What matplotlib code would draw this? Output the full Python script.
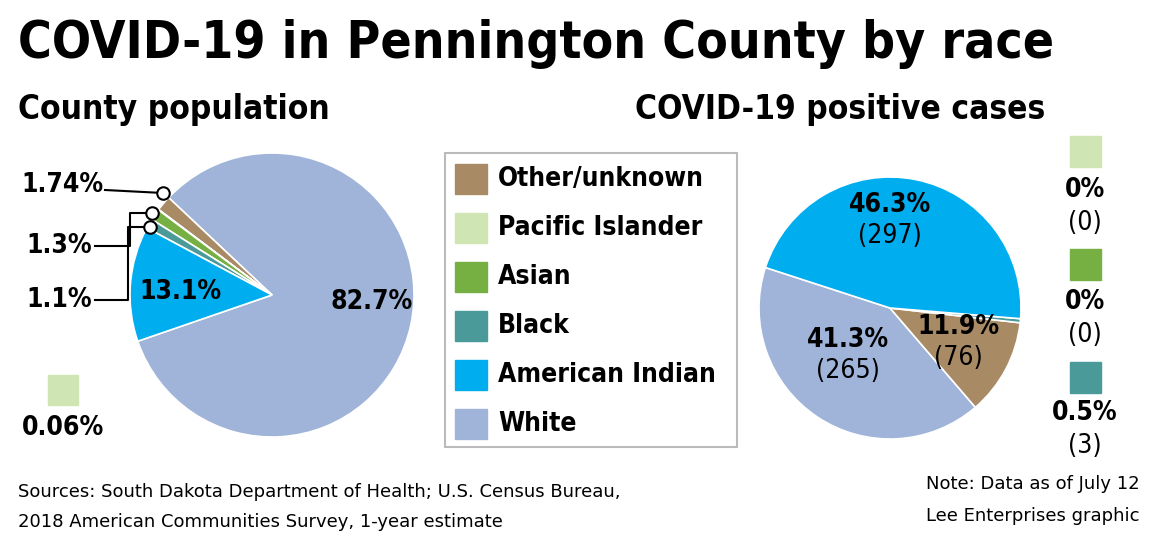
import matplotlib
matplotlib.use("Agg")
import matplotlib.pyplot as plt
from matplotlib.lines import Line2D
from matplotlib.patches import Rectangle

W, H = 1166, 542
races = ["Other/unknown", "Pacific Islander", "Asian", "Black", "American Indian", "White"]
colors = ["#a88a64", "#cfe6b4", "#76b043", "#4a9a9a", "#00aeef", "#9fb4d8"]
pop_pct = [1.74, 0.06, 1.3, 1.1, 13.1, 82.7]
case_pct = [11.9, 0.0, 0.0, 0.5, 46.3, 41.3]
case_n = [76, 0, 0, 3, 297, 265]

FN = "DejaVu Sans"
FC = "DejaVu Sans"
fig = plt.figure(figsize=(W/100, H/100), dpi=100)

def fx(x): return x / W
def fy(y): return 1 - y / H
def txt(x, y, s, size, bold=True, ha="left", va="center", cond=True):
    fig.text(fx(x), fy(y), s, fontsize=size, fontweight="bold" if bold else "normal",
             ha=ha, va=va, family=FC if cond else FN, fontstretch="condensed" if cond else "normal")

txt(18, 44, "COVID-19 in Pennington County by race", 37, va="center")
txt(18, 110, "County population", 24)
txt(1045, 110, "COVID-19 positive cases", 24, ha="right")

def pie_ax(cx, cy, r):
    return fig.add_axes([fx(cx - r), fy(cy + r), 2*r/W, 2*r/H])

# left pie: order counterclockwise White, Other, Pacific, Asian, Black, AmInd
order = [5, 0, 1, 2, 3, 4]
ax1 = pie_ax(272, 295, 142)
ax1.pie([pop_pct[i] for i in order], colors=[colors[i] for i in order], startangle=199,
        counterclock=True, wedgeprops=dict(edgecolor="white", linewidth=1.2))
ax1.set_xlim(-1, 1); ax1.set_ylim(-1, 1)

txt(330, 302, f"{pop_pct[5]}%", 19)
txt(180, 292, f"{pop_pct[4]}%", 19, ha="center")

def line(pts):
    xs = [fx(p[0]) for p in pts]; ys = [fy(p[1]) for p in pts]
    fig.add_artist(Line2D(xs, ys, color="black", lw=1.5, transform=fig.transFigure))
def circ(x, y):
    fig.add_artist(Line2D([fx(x)], [fy(y)], marker="o", ms=9, mfc="white", mec="black", mew=1.5,
                          transform=fig.transFigure))
line([(105, 190), (163, 193)]); circ(163, 193)
line([(95, 246), (130, 246), (130, 213), (152, 213)]); circ(152, 213)
line([(95, 300), (128, 300), (128, 227), (150, 227)]); circ(150, 227)
txt(103, 185, f"{pop_pct[0]}%", 19, ha="right")
txt(92, 246, f"{pop_pct[2]}%", 19, ha="right")
txt(92, 300, f"{pop_pct[3]}%", 19, ha="right")
fig.add_artist(Rectangle((fx(48), fy(405)), 30/W, 30/H, color=colors[1], transform=fig.transFigure))
txt(22, 428, f"{pop_pct[1]}%", 19)

# legend
fig.add_artist(Rectangle((fx(445), fy(447)), 292/W, 294/H, facecolor="white", edgecolor="#bbbbbb",
                         lw=1.5, transform=fig.transFigure))
for k, i in enumerate(range(6)):
    y = 179 + k * 49
    fig.add_artist(Rectangle((fx(455), fy(y + 15)), 32/W, 30/H, color=colors[i], transform=fig.transFigure))
    txt(498, y, races[i], 19)

# right pie: White, Other, Black, AmInd (zeros skipped)
order2 = [5, 0, 3, 4]
ax2 = pie_ax(890, 308, 131)
ax2.pie([case_pct[i] for i in order2], colors=[colors[i] for i in order2], startangle=162,
        counterclock=True, wedgeprops=dict(edgecolor="white", linewidth=1.2))
ax2.set_xlim(-1, 1); ax2.set_ylim(-1, 1)

def lab(x, y, i, size=19, dy=31):
    txt(x, y, f"{case_pct[i]:g}%", size, ha="center")
    txt(x, y + dy, f"({case_n[i]})", size, bold=False, ha="center")
lab(890, 205, 4)
lab(848, 340, 5)
lab(958, 327, 0)
for i, sy, ly in [(1, 136, 190), (2, 249, 302), (3, 362, 413)]:
    fig.add_artist(Rectangle((fx(1070), fy(sy + 31)), 31/W, 31/H, color=colors[i], transform=fig.transFigure))
    lab(1085, ly, i, size=19, dy=33)

fig.text(fx(18), fy(492), "Sources: South Dakota Department of Health; U.S. Census Bureau,", fontsize=13,
         va="center", family=FN)
fig.text(fx(18), fy(522), "2018 American Communities Survey, 1-year estimate", fontsize=13, va="center", family=FN)
fig.text(fx(1140), fy(484), "Note: Data as of July 12", fontsize=13, va="center", ha="right", family=FN)
fig.text(fx(1140), fy(516), "Lee Enterprises graphic", fontsize=13, va="center", ha="right", family=FN)

fig.savefig("out.png", dpi=100)
